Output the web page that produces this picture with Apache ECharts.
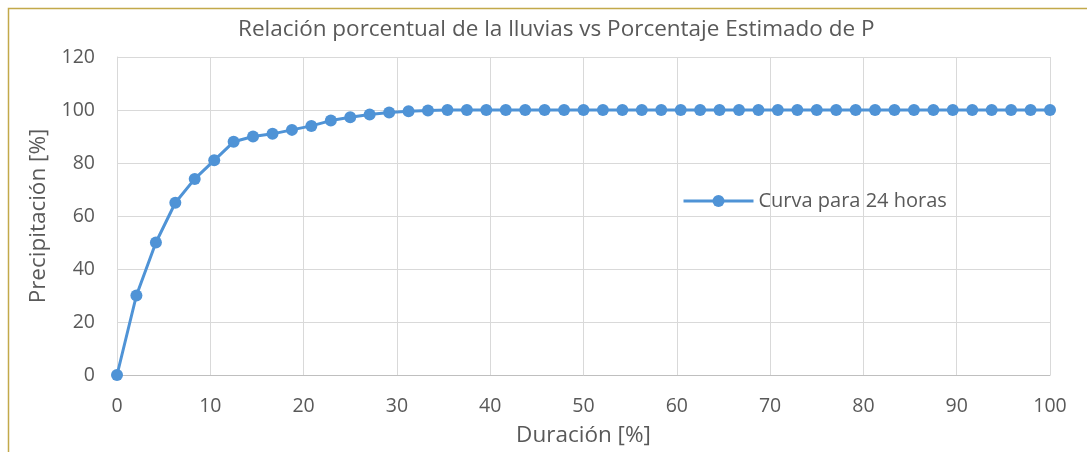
<!DOCTYPE html>
<html>
<head>
<meta charset="utf-8">
<script src="https://cdn.jsdelivr.net/npm/echarts@6/dist/echarts.min.js"></script>
<style>
html,body{margin:0;padding:0;background:#fff;}
#chart{width:1087px;height:452px;}
</style>
</head>
<body>
<div id="chart"></div>
<script>
var titleText = 'Relación porcentual de la lluvias vs Porcentaje Estimado de P';
var xAxisName = 'Duración [%]';
var yAxisName = 'Precipitación [%]';
var seriesName = 'Curva para 24 horas';

var duration = [0, 2.08, 4.17, 6.25, 8.33, 10.42, 12.5, 14.58, 16.67, 18.75,
  20.83, 22.92, 25, 27.08, 29.17, 31.25, 33.33, 35.42, 37.5, 39.58,
  41.67, 43.75, 45.83, 47.92, 50, 52.08, 54.17, 56.25, 58.33, 60.42,
  62.5, 64.58, 66.67, 68.75, 70.83, 72.92, 75, 77.08, 79.17, 81.25,
  83.33, 85.42, 87.5, 89.58, 91.67, 93.75, 95.83, 97.92, 100];
var precipitation = [0, 30, 50, 65, 74, 81, 88, 90, 91, 92.5,
  94, 96, 97.3, 98.3, 99.1, 99.5, 99.8, 100, 100, 100,
  100, 100, 100, 100, 100, 100, 100, 100, 100, 100,
  100, 100, 100, 100, 100, 100, 100, 100, 100, 100,
  100, 100, 100, 100, 100, 100, 100, 100, 100];

var points = duration.map(function (d, i) { return [d, precipitation[i]]; });

var FONT = 'Open Sans';
var chart = echarts.init(document.getElementById('chart'));
chart.setOption({
  animation: false,
  backgroundColor: '#fff',
  graphic: [{
    type: 'rect', z: -10,
    shape: {x: 8.5, y: 8.5, width: 1100, height: 500},
    style: {fill: 'none', stroke: '#c2a94a', lineWidth: 1.5}
  }],
  title: {
    text: titleText,
    left: 233, top: 13,
    textStyle: {fontFamily: FONT, fontSize: 22.5, fontWeight: 'normal', color: '#595959'}
  },
  legend: {
    data: [seriesName],
    left: 677, top: 186,
    itemWidth: 70, itemHeight: 15,
    lineStyle: {width: 3},
    textStyle: {fontFamily: FONT, fontSize: 20, color: '#595959'}
  },
  grid: {left: 117, right: 37, top: 57, bottom: 76},
  xAxis: {
    type: 'value', min: 0, max: 100, interval: 10,
    name: xAxisName, nameLocation: 'middle', nameGap: 49,
    nameTextStyle: {fontFamily: FONT, fontSize: 22.5, color: '#595959'},
    axisLine: {show: true, lineStyle: {color: '#bfbfbf', width: 1}},
    axisTick: {show: false},
    axisLabel: {fontFamily: FONT, fontSize: 19.5, color: '#595959', margin: 21},
    splitLine: {show: true, lineStyle: {color: '#d9d9d9', width: 1}}
  },
  yAxis: {
    type: 'value', min: 0, max: 120, interval: 20,
    name: yAxisName, nameLocation: 'middle', nameGap: 67,
    nameTextStyle: {fontFamily: FONT, fontSize: 22.5, color: '#595959'},
    axisLine: {show: true, lineStyle: {color: '#d9d9d9', width: 1}},
    axisTick: {show: false},
    axisLabel: {fontFamily: FONT, fontSize: 19.5, color: '#595959', margin: 22},
    splitLine: {show: true, lineStyle: {color: '#d9d9d9', width: 1}}
  },
  series: [{
    name: seriesName,
    type: 'line',
    data: points,
    symbol: 'circle',
    symbolSize: 12,
    lineStyle: {color: '#4f93d6', width: 3},
    itemStyle: {color: '#4f93d6'}
  }]
});
</script>
</body>
</html>
